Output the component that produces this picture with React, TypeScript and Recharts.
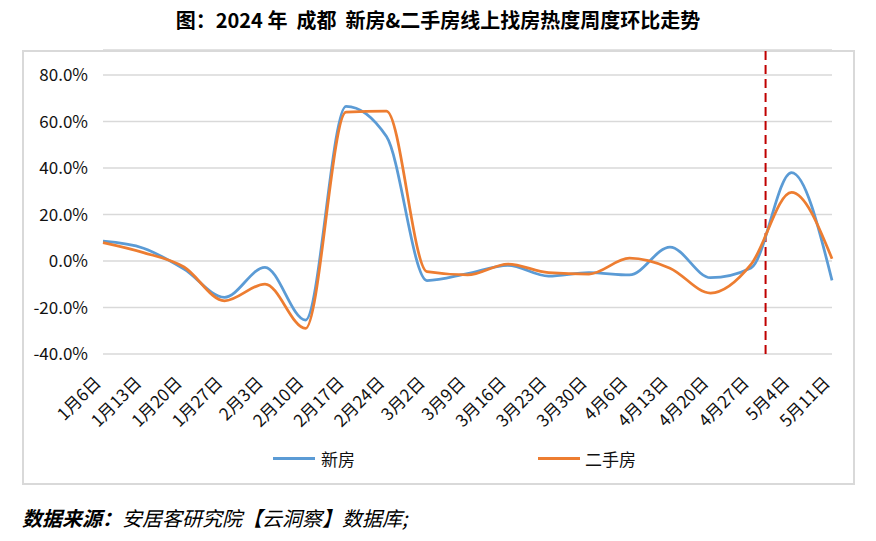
import { LineChart, Line, XAxis, YAxis, CartesianGrid, ReferenceLine } from "recharts";

const dates = [
  "1月6日", "1月13日", "1月20日", "1月27日", "2月3日", "2月10日", "2月17日",
  "2月24日", "3月2日", "3月9日", "3月16日", "3月23日", "3月30日", "4月6日",
  "4月13日", "4月20日", "4月27日", "5月4日", "5月11日",
];
const newHome = [
  8.5, 5.5, -3.5, -15.6, -2.7, -25.4, 66.5, 53.5, -8.4, -5.4, -1.9, -6.5, -5.0,
  -6.0, 6.0, -7.2, -3.0, 38.0, -8.3,
];
const resale = [
  7.9, 3.6, -2.6, -17.1, -9.9, -29.0, 64.0, 64.5, -4.6, -6.0, -1.3, -5.0, -5.6,
  1.2, -3.1, -13.8, -1.5, 29.5, 1.0,
];
const yTicks = [-40, -20, 0, 20, 40, 60, 80];
const markerX = 16.36; // 4月27日 ~ 5月4日 之间

const font = '"Noto Sans CJK SC", "Noto Sans", sans-serif';

const chartData = dates.map((d, i) => ({ idx: i, date: d, newHome: newHome[i], resale: resale[i] }));

const DateTick = (props: any) => {
  const { x, y, payload } = props;
  return (
    <g transform={`translate(${x - 1},${y + 30})`}>
      <text x={0} y={0} textAnchor="end" transform="rotate(-45)" fontSize={17} fontFamily={font} fill="#111">
        {dates[payload.value]}
      </text>
    </g>
  );
};

export default function App() {
  return (
    <div style={{ position: "absolute", left: 0, top: 0, width: 876, height: 541, background: "#fff", fontFamily: font }}>
      <div
        style={{
          position: "absolute", left: 0, top: 6, width: 876, textAlign: "center",
          fontSize: 20, fontWeight: 700, color: "#000", lineHeight: "28px", whiteSpace: "pre",
        }}
      >
        {"图：2024 年  成都  新房&二手房线上找房热度周度环比走势"}
      </div>
      <div
        style={{
          position: "absolute", left: 22, top: 50, width: 829, height: 431,
          border: "2px solid #d9d9d9",
        }}
      />
      <div style={{ position: "absolute", left: 0, top: 0 }}>
        <LineChart width={876} height={541} data={chartData} margin={{ top: 50, right: 44, bottom: 127, left: 0 }}>
          <CartesianGrid vertical={false} stroke="#d9d9d9" strokeWidth={1.5} />
          <XAxis
            type="number"
            dataKey="idx"
            domain={[0, 18]}
            ticks={dates.map((_, i) => i)}
            interval={0}
            axisLine={false}
            tickLine={false}
            tickSize={0}
            tickMargin={0}
            height={60}
            tick={<DateTick />}
          />
          <YAxis
            width={103}
            domain={[-40, 90.75]}
            ticks={yTicks}
            axisLine={false}
            tickLine={false}
            tickSize={0}
            tickMargin={15}
            tickFormatter={(v: number) => `${v.toFixed(1)}%`}
            tick={{ fontSize: 17, fill: "#111", fontFamily: font }}
          />
          <ReferenceLine x={markerX} stroke="#c00000" strokeWidth={2} strokeDasharray="9 5" />
          <Line type="monotone" dataKey="newHome" stroke="#5b9bd5" strokeWidth={2.75} dot={false} activeDot={false} isAnimationActive={false} />
          <Line type="monotone" dataKey="resale" stroke="#ed7d31" strokeWidth={2.75} dot={false} activeDot={false} isAnimationActive={false} />
        </LineChart>
      </div>
      <div style={{ position: "absolute", left: 273, top: 457, width: 42, height: 3, background: "#5b9bd5" }} />
      <div style={{ position: "absolute", left: 321, top: 448, fontSize: 17, lineHeight: "22px", color: "#111" }}>新房</div>
      <div style={{ position: "absolute", left: 538, top: 457, width: 42, height: 3, background: "#ed7d31" }} />
      <div style={{ position: "absolute", left: 585, top: 448, fontSize: 17, lineHeight: "22px", color: "#111" }}>二手房</div>
      <div style={{ position: "absolute", left: 22, top: 504, fontSize: 20, lineHeight: "28px", fontStyle: "italic", color: "#000" }}>
        <span style={{ fontWeight: 700 }}>数据来源：</span>
        安居客研究院【云洞察】数据库;
      </div>
    </div>
  );
}
